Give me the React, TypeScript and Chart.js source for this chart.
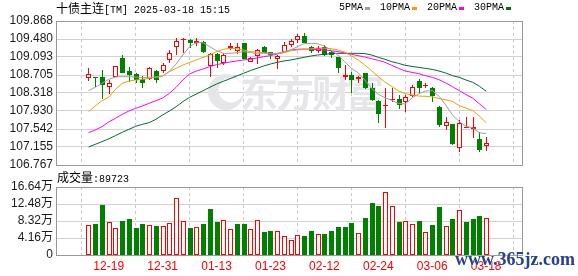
import React, { useEffect, useRef } from "react";
import { Chart, registerables } from "chart.js";
Chart.register(...registerables);

const titleName = "十债主连";
const titleInfo = "[TM] 2025-03-18 15:15";
const volumeName = "成交量";
const watermark = "东方财富";
const siteMark = "www.365jz.com";

const dates = [
  "12-16","12-17","12-18","12-19","12-20","12-23","12-24","12-25","12-26","12-27",
  "12-30","12-31","01-02","01-03","01-06","01-07","01-08","01-09","01-10","01-13",
  "01-14","01-15","01-16","01-17","01-20","01-21","01-22","01-23","01-24","01-27",
  "02-05","02-06","02-07","02-10","02-11","02-12","02-13","02-14","02-17","02-18",
  "02-19","02-20","02-21","02-24","02-25","02-26","02-27","02-28","03-03","03-04",
  "03-05","03-06","03-07","03-10","03-11","03-12","03-13","03-14","03-17","03-18",
];
const tickDates = ["12-19","12-31","01-13","01-23","02-12","02-24","03-06","03-18"];

const open = [
  108.648,108.662,108.662,108.454,108.669,109.064,108.798,108.727,108.619,108.612,
  108.791,108.791,109.028,109.315,109.473,109.459,109.387,109.423,108.906,109.150,
  108.956,109.279,109.229,109.387,108.992,109.122,109.301,109.193,109.043,109.208,
  109.351,109.459,109.545,109.301,109.229,109.315,109.208,109.086,108.669,108.705,
  108.626,108.741,108.432,108.152,108.052,108.167,108.181,108.131,108.260,108.576,
  108.468,108.418,108.023,107.607,107.643,107.127,107.571,107.542,107.327,107.176,
];
const high = [
  108.849,108.669,108.813,108.598,108.906,109.136,108.885,108.748,108.684,108.885,
  108.813,108.971,109.244,109.495,109.495,109.473,109.495,109.437,109.172,109.172,
  109.172,109.387,109.387,109.401,109.100,109.265,109.330,109.208,109.136,109.423,
  109.473,109.581,109.617,109.330,109.330,109.351,109.222,109.100,108.921,108.777,
  108.684,108.755,108.526,108.167,108.432,108.418,108.274,108.274,108.490,108.612,
  108.526,108.440,108.038,107.807,107.650,107.736,107.808,107.808,107.485,107.377,
];
const low = [
  108.576,108.440,108.188,108.296,108.662,108.741,108.562,108.540,108.418,108.598,
  108.540,108.741,108.956,109.136,109.186,109.279,109.330,109.172,108.669,108.849,
  108.921,109.244,109.157,109.043,108.978,108.935,109.172,109.043,108.834,109.193,
  109.315,109.387,109.387,109.186,109.172,109.122,109.064,108.755,108.598,108.310,
  108.526,108.397,108.152,107.664,107.557,108.131,107.966,107.901,108.239,108.296,
  108.418,108.131,107.578,107.521,107.198,107.040,107.557,107.355,107.054,107.075,
];
const close = [
  108.727,108.633,108.490,108.526,108.899,108.755,108.705,108.598,108.526,108.849,
  108.598,108.921,109.172,109.437,109.480,109.401,109.444,109.193,109.157,109.007,
  109.136,109.337,109.315,109.050,109.064,109.244,109.186,109.136,109.114,109.351,
  109.437,109.545,109.401,109.229,109.279,109.136,109.136,108.863,108.698,108.598,
  108.669,108.432,108.167,107.865,108.066,108.188,108.059,108.239,108.439,108.418,
  108.483,108.260,107.629,107.687,107.219,107.665,107.593,107.579,107.090,107.248,
];

const ma5 = [
  108.368,108.440,108.526,108.612,108.662,108.669,108.669,108.662,108.648,108.655,
  108.662,108.684,108.784,108.942,109.136,109.315,109.401,109.401,109.315,109.229,
  109.172,109.172,109.186,109.208,109.186,109.172,109.172,109.157,109.172,109.208,
  109.244,109.315,109.380,109.387,109.380,109.330,109.244,109.136,108.992,108.849,
  108.755,108.598,108.418,108.290,108.215,108.160,108.095,108.081,108.210,108.300,
  108.360,108.370,108.249,108.060,107.845,107.705,107.600,107.570,107.460,107.445,
];
const ma10 = [
  107.916,108.038,108.153,108.224,108.397,108.526,108.576,108.598,108.612,108.633,
  108.655,108.684,108.777,108.849,108.920,108.975,109.030,109.086,109.136,109.208,
  109.258,109.279,109.272,109.244,109.208,109.200,109.186,109.172,109.168,109.185,
  109.225,109.245,109.255,109.268,109.285,109.282,109.272,109.245,109.200,109.115,
  109.030,108.920,108.800,108.670,108.550,108.460,108.361,108.305,108.274,108.253,
  108.245,108.234,108.199,108.170,108.135,108.049,107.992,107.942,107.821,107.678,
];
const ma20 = [
  107.462,107.521,107.593,107.693,107.772,107.858,107.930,107.987,108.038,108.095,
  108.153,108.210,108.310,108.440,108.598,108.727,108.791,108.834,108.885,108.928,
  108.956,108.985,109.007,109.028,109.043,109.071,109.100,109.122,109.157,109.193,
  109.244,109.258,109.265,109.258,109.251,109.244,109.229,109.208,109.179,109.150,
  109.122,109.093,109.057,109.021,108.978,108.913,108.849,108.791,108.762,108.734,
  108.691,108.655,108.605,108.534,108.455,108.370,108.284,108.206,108.085,107.964,
];
const ma30 = [
  107.155,107.212,107.270,107.330,107.400,107.471,107.535,107.600,107.643,107.679,
  107.751,107.844,107.930,108.023,108.131,108.224,108.296,108.368,108.440,108.511,
  108.569,108.626,108.684,108.741,108.798,108.849,108.899,108.942,108.978,109.007,
  109.028,109.057,109.086,109.114,109.136,109.150,109.165,109.172,109.172,109.172,
  109.172,109.165,109.136,109.086,109.043,108.992,108.956,108.913,108.890,108.869,
  108.848,108.826,108.791,108.748,108.691,108.655,108.598,108.548,108.463,108.356,
];
const maNames = ["5PMA", "10PMA", "20PMA", "30PMA"];

const volume = [
  73600,76000,122100,80000,65500,83300,88100,66300,76000,72800,
  71200,70300,77600,138300,82500,66300,67900,76000,112400,80900,
  85700,63100,76000,76000,63100,84900,56600,59000,58200,46100,
  37200,48500,46900,59000,50900,50900,59000,67900,67900,77600,
  53400,89800,126900,118900,155200,118900,80900,82500,75200,83300,
  55800,72800,116400,72000,87300,109200,80900,87300,95400,89723,
];
const volumeUp = [
  1,0,0,1,1,0,0,0,0,1,
  0,1,1,1,1,0,1,0,0,0,
  1,1,0,0,1,1,0,0,1,1,
  1,1,0,0,1,0,0,0,0,0,
  1,0,0,0,1,1,0,1,1,0,
  1,0,0,1,0,1,0,0,0,1,
];

const priceTicks = [106.767, 107.155, 107.542, 107.930, 108.318, 108.705, 109.093, 109.480, 109.868];
const volumeTicks = [0, 41600, 83200, 124800, 166400];

const RED = "#ff0000";
const GREEN = "#008000";
const MA_COLORS = ["#a0a0a0", "#f0a000", "#ff00ff", "#006a30"];
const W = 578;
const H = 276;
const SANS = '"Liberation Sans", Arial, "Noto Sans CJK SC", sans-serif';
const MONO = '"Liberation Mono", "DejaVu Sans Mono", monospace';
const CJK = '"Noto Sans CJK SC", sans-serif';

const frame = {
  id: "frame",
  beforeDatasetsDraw(chart: any) {
    const { ctx, chartArea: a } = chart;
    ctx.save();
    ctx.strokeStyle = "#999999";
    ctx.lineWidth = 1;
    const l = Math.round(a.left) + 0.5;
    const t = Math.round(a.top) + 0.5;
    const r = Math.round(a.right) + 0.5;
    const b = Math.round(a.bottom) + 0.5;
    ctx.strokeRect(l, t, r - l, b - t);
    ctx.restore();
  },
};

// faint brand watermark, painted over the grid and under the marks
const brandMark = {
  id: "brandMark",
  beforeDatasetsDraw(chart: any) {
    const { ctx } = chart;
    ctx.save();
    ctx.fillStyle = "#e6e6ea";
    // leaf-like logo
    ctx.beginPath();
    ctx.arc(226, 92, 18, 0, Math.PI * 2);
    ctx.arc(231, 90, 12.5, 0, Math.PI * 2);
    ctx.fill("evenodd");
    ctx.font = `bold 38px ${CJK}`;
    ctx.textAlign = "center";
    ctx.textBaseline = "middle";
    const centers = [259, 295, 331, 365];
    Array.from(watermark).forEach((ch, i) => ctx.fillText(ch, centers[i], 93));
    ctx.restore();
  },
};

// keep bar edges on whole pixels so thin outlines stay crisp
const snapBars = {
  id: "snapBars",
  afterDatasetsUpdate(chart: any) {
    chart.data.datasets.forEach((_: any, di: number) => {
      const meta = chart.getDatasetMeta(di);
      if (meta.type !== "bar") return;
      meta.data.forEach((el: any) => {
        el.x = Math.round(el.x) + 0.5;
        const y = Math.round(el.y);
        let base = Math.round(el.base);
        if (Math.abs(y - base) < 1) base = y + 1;
        el.y = y;
        el.base = base;
      });
    });
  },
};

export default function App() {
  const priceRef = useRef<HTMLCanvasElement>(null);
  const volRef = useRef<HTMLCanvasElement>(null);

  useEffect(() => {
    const idx = dates.map((_, i) => i);
    const tickIdx = tickDates.map((d) => dates.indexOf(d));
    const up = idx.map((i) => close[i] >= open[i]);
    const mas = [ma5, ma10, ma20, ma30];

    const xScale = (showLabels: boolean) => ({
      type: "linear" as const,
      min: -0.5,
      max: dates.length,
      afterBuildTicks: (s: any) => {
        s.ticks = tickIdx.map((v) => ({ value: v }));
      },
      afterFit: (s: any) => {
        s.height = showLabels ? 21 : 0;
      },
      ticks: {
        display: showLabels,
        autoSkip: false,
        maxRotation: 0,
        padding: 4,
        color: RED,
        font: { family: SANS, size: 12 },
        callback: (v: any) => dates[Math.round(v)] ?? "",
      },
      grid: { color: "#c8c8c8", drawTicks: false, lineWidth: 1 },
      border: { display: false, dash: [3, 3] },
    });

    const priceChart = new Chart(priceRef.current!, {
      type: "bar",
      data: {
        datasets: [
          ...mas.map((m, k) => ({
            type: "line" as const,
            label: maNames[k],
            data: m.map((y, i) => ({ x: i, y })),
            borderColor: MA_COLORS[k],
            borderWidth: 1,
            pointRadius: 0,
            tension: 0,
            order: 0,
          })),
          {
            type: "bar" as const,
            label: "body",
            data: idx.map((i) => ({ x: i, y: [open[i], close[i]] })) as any,
            backgroundColor: up.map((u) => (u ? "#ffffff" : GREEN)),
            borderColor: up.map((u) => (u ? RED : GREEN)),
            borderWidth: 1,
            borderSkipped: false,
            barThickness: 5,
            grouped: false,
            inflateAmount: 0,
            order: 1,
          },
          {
            type: "bar" as const,
            label: "wick",
            data: idx.map((i) => ({ x: i, y: [low[i], high[i]] })) as any,
            backgroundColor: up.map((u) => (u ? RED : GREEN)),
            borderWidth: 0,
            barThickness: 1,
            grouped: false,
            inflateAmount: 0,
            order: 2,
          },
        ],
      },
      options: {
        responsive: false,
        animation: false,
        events: [],
        layout: { padding: { left: 0, right: W - 522, top: 21, bottom: H - 165 } },
        plugins: { legend: { display: false }, tooltip: { enabled: false } },
        scales: {
          x: xScale(false) as any,
          y: {
            type: "linear",
            min: priceTicks[0],
            max: priceTicks[priceTicks.length - 1],
            afterBuildTicks: (s: any) => {
              s.ticks = priceTicks.map((v) => ({ value: v }));
            },
            afterFit: (s: any) => {
              s.width = 56;
            },
            ticks: {
              autoSkip: false,
              padding: 3,
              color: "#1a1a1a",
              font: { family: SANS, size: 12 },
              callback: (v: any) => Number(v).toFixed(3),
            },
            grid: { color: "#d2d2d2", drawTicks: false },
            border: { display: false },
          },
        },
      },
      plugins: [frame, brandMark, snapBars],
    });

    const volChart = new Chart(volRef.current!, {
      type: "bar",
      data: {
        datasets: [
          {
            label: volumeName,
            data: idx.map((i) => ({ x: i, y: volume[i] })) as any,
            backgroundColor: volumeUp.map((u) => (u ? "#ffffff" : GREEN)),
            borderColor: volumeUp.map((u) => (u ? RED : GREEN)),
            borderWidth: 1,
            borderSkipped: false,
            barThickness: 5,
            inflateAmount: 0,
          },
        ],
      },
      options: {
        responsive: false,
        animation: false,
        events: [],
        layout: { padding: { left: 0, right: W - 522, top: 187, bottom: 0 } },
        plugins: { legend: { display: false }, tooltip: { enabled: false } },
        scales: {
          x: xScale(true) as any,
          y: {
            type: "linear",
            min: volumeTicks[0],
            max: volumeTicks[volumeTicks.length - 1],
            afterBuildTicks: (s: any) => {
              s.ticks = volumeTicks.map((v) => ({ value: v }));
            },
            afterFit: (s: any) => {
              s.width = 56;
            },
            ticks: {
              autoSkip: false,
              padding: 3,
              color: "#1a1a1a",
              font: { family: SANS, size: 12 },
              callback: (v: any) => (Number(v) === 0 ? "0" : (Number(v) / 10000).toFixed(2) + "万"),
            },
            grid: { color: "#d2d2d2", drawTicks: false },
            border: { display: false },
          },
        },
      },
      plugins: [frame, snapBars],
    });

    return () => {
      priceChart.destroy();
      volChart.destroy();
    };
  }, []);

  const abs = { position: "absolute" as const, whiteSpace: "nowrap" as const };

  return (
    <div style={{ position: "absolute", left: 0, top: 0, width: W, height: H, background: "#fff", overflow: "hidden" }}>
      <canvas ref={priceRef} width={W} height={H} style={{ position: "absolute", left: 0, top: 0 }} />
      <canvas ref={volRef} width={W} height={H} style={{ position: "absolute", left: 0, top: 0 }} />
      <div style={{ ...abs, left: 56, top: 1, height: 14, lineHeight: "14px", color: "#000" }}>
        <span style={{ fontFamily: CJK, fontSize: 12 }}>{titleName}</span>
        <span style={{ fontFamily: MONO, fontSize: 10 }}>{titleInfo}</span>
      </div>
      <div style={{ ...abs, left: 339, top: 1, height: 14, lineHeight: "14px", display: "flex", alignItems: "center" }}>
        {maNames.map((n, k) => (
          <React.Fragment key={n}>
            <span style={{ fontFamily: MONO, fontSize: 10, color: "#000", marginLeft: k === 0 ? 0 : 10 }}>{n}</span>
            <span style={{ display: "inline-block", width: 5, height: 3, background: MA_COLORS[k], marginLeft: 2 }} />
          </React.Fragment>
        ))}
      </div>
      <div style={{ ...abs, left: 57, top: 170, height: 14, lineHeight: "14px", color: "#000" }}>
        <span style={{ fontFamily: CJK, fontSize: 12 }}>{volumeName}</span>
        <span style={{ fontFamily: MONO, fontSize: 10 }}>{":" + volume[volume.length - 1]}</span>
      </div>
      <div
        style={{
          ...abs,
          left: 455,
          top: 250,
          fontFamily: '"Liberation Serif", serif',
          fontWeight: 700,
          fontSize: 18,
          lineHeight: "18px",
          color: "#24438c",
          textShadow: "0 0 2px #fff",
        }}
      >
        {siteMark}
      </div>
    </div>
  );
}
